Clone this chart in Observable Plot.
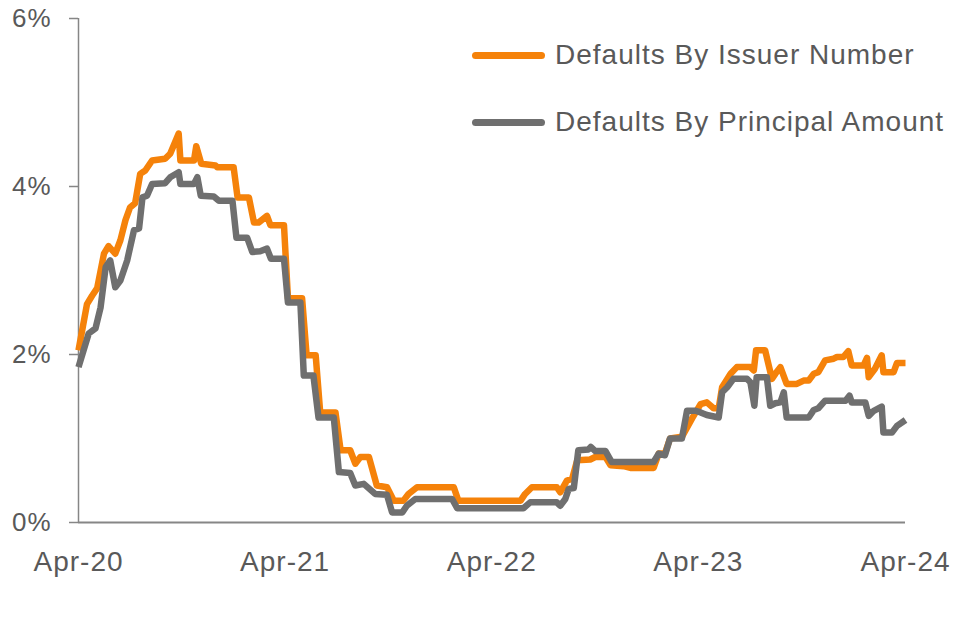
<!DOCTYPE html>
<html>
<head>
<meta charset="utf-8">
<script src="https://cdn.jsdelivr.net/npm/d3@7"></script>
<script src="https://cdn.jsdelivr.net/npm/@observablehq/plot@0.6"></script>
<style>
  html, body { margin: 0; padding: 0; background: #fff; }
  #wrap { position: relative; width: 954px; height: 637px; font-family: "Liberation Sans", Arial, sans-serif; }
  .legend-item { position: absolute; left: 472px; height: 30px; display: flex; align-items: center; gap: 10px;
    font-size: 28px; letter-spacing: 1px; color: #595959; white-space: nowrap; }
  .swatch { width: 73px; height: 7px; border-radius: 4px; }
</style>
</head>
<body>
<div id="wrap"></div>
<script>
// ---- Data (values in %) ----
const seriesNames = ["Defaults By Issuer Number", "Defaults By Principal Amount"];
const seriesColors = ["#F5820A", "#6F6F6F"];

const issuerDates = [
  "2020-04-01","2020-04-16","2020-04-25","2020-05-04","2020-05-16","2020-05-24","2020-06-05","2020-06-14",
  "2020-06-23","2020-07-01","2020-07-10","2020-07-19","2020-07-28","2020-08-09","2020-09-01","2020-09-10",
  "2020-09-25","2020-09-28","2020-10-22","2020-10-26","2020-11-04","2020-11-29","2020-12-02","2020-12-31",
  "2021-01-07","2021-01-27","2021-02-05","2021-02-13","2021-02-28","2021-03-06","2021-03-30","2021-04-06",
  "2021-05-01","2021-05-09","2021-05-25","2021-06-02","2021-06-29","2021-07-08","2021-07-25","2021-08-03",
  "2021-08-12","2021-08-27","2021-09-10","2021-09-28","2021-10-10","2021-10-27","2021-11-05","2021-11-20",
  "2022-01-24","2022-02-01","2022-05-22","2022-05-30","2022-06-11","2022-07-25","2022-07-31","2022-08-12",
  "2022-08-21","2022-08-30","2022-09-22","2022-10-01","2022-10-19","2022-10-28","2022-11-20","2022-12-02",
  "2023-01-12","2023-01-21","2023-02-01","2023-02-10","2023-03-03","2023-03-12","2023-03-21","2023-04-05",
  "2023-04-16","2023-04-28","2023-05-07","2023-05-13","2023-05-28","2023-06-08","2023-07-02","2023-07-08",
  "2023-07-12","2023-07-28","2023-08-09","2023-08-15","2023-08-24","2023-09-04","2023-09-22","2023-10-04",
  "2023-10-13","2023-10-22","2023-10-30","2023-11-11","2023-11-26","2023-12-02","2023-12-13","2023-12-22",
  "2023-12-28","2024-01-18","2024-01-24","2024-01-27","2024-02-07","2024-02-19","2024-02-22","2024-03-11",
  "2024-03-17","2024-04-01"
];
const issuerValues = [
  2.05,2.60,2.70,2.79,3.20,3.29,3.20,3.36,
  3.60,3.75,3.80,4.15,4.19,4.31,4.33,4.39,
  4.63,4.31,4.31,4.48,4.27,4.25,4.23,4.23,
  3.87,3.87,3.57,3.57,3.65,3.54,3.54,2.67,
  2.67,1.99,1.99,1.31,1.31,0.86,0.86,0.70,
  0.78,0.78,0.44,0.42,0.26,0.26,0.34,0.42,
  0.42,0.26,0.26,0.34,0.42,0.42,0.36,0.50,
  0.52,0.74,0.75,0.78,0.78,0.68,0.67,0.65,
  0.65,0.82,0.82,1.00,1.02,1.13,1.24,1.41,
  1.43,1.36,1.36,1.61,1.77,1.85,1.85,1.81,
  2.05,2.05,1.71,1.77,1.85,1.65,1.65,1.69,
  1.69,1.77,1.79,1.93,1.95,1.97,1.97,2.04,
  1.87,1.87,1.96,1.73,1.83,1.99,1.79,1.79,
  1.90,1.90
];

const principalDates = [
  "2020-04-01","2020-04-10","2020-04-19","2020-05-01","2020-05-10","2020-05-19","2020-05-27","2020-06-05",
  "2020-06-14","2020-06-26","2020-07-08","2020-07-17","2020-07-23","2020-07-31","2020-08-09","2020-09-01",
  "2020-09-10","2020-09-25","2020-09-28","2020-10-22","2020-10-28","2020-11-03","2020-11-26","2020-12-05",
  "2020-12-29","2021-01-05","2021-01-24","2021-02-02","2021-02-16","2021-02-28","2021-03-07","2021-03-30",
  "2021-04-06","2021-04-28","2021-05-04","2021-05-21","2021-05-30","2021-06-26","2021-07-05","2021-07-25",
  "2021-08-03","2021-08-18","2021-09-07","2021-09-28","2021-10-07","2021-10-25","2021-11-02","2021-11-17",
  "2022-01-21","2022-01-30","2022-05-27","2022-06-08","2022-07-25","2022-07-31","2022-08-09","2022-08-15",
  "2022-08-24","2022-09-01","2022-09-19","2022-09-23","2022-10-01","2022-10-19","2022-10-30","2023-01-12",
  "2023-01-21","2023-02-01","2023-02-10","2023-03-03","2023-03-12","2023-03-27","2023-04-05","2023-04-16",
  "2023-05-07","2023-05-13","2023-05-22","2023-06-02","2023-06-26","2023-07-02","2023-07-09","2023-07-13",
  "2023-07-31","2023-08-06","2023-08-15","2023-08-24","2023-08-30","2023-09-04","2023-10-13","2023-10-22",
  "2023-10-30","2023-11-11","2023-12-17","2023-12-24","2023-12-28","2024-01-21","2024-01-27","2024-02-05",
  "2024-02-19","2024-02-22","2024-03-08","2024-03-17","2024-04-01"
];
const principalValues = [
  1.85,2.05,2.25,2.31,2.56,3.04,3.12,2.80,
  2.88,3.12,3.48,3.50,3.87,3.89,4.03,4.04,
  4.11,4.17,4.03,4.03,4.11,3.89,3.88,3.83,
  3.83,3.39,3.39,3.22,3.23,3.26,3.14,3.14,
  2.62,2.62,1.75,1.75,1.25,1.25,0.60,0.59,
  0.44,0.46,0.34,0.33,0.12,0.12,0.20,0.28,
  0.28,0.17,0.17,0.24,0.24,0.20,0.28,0.40,
  0.41,0.86,0.87,0.90,0.85,0.85,0.72,0.72,
  0.82,0.80,1.00,1.00,1.33,1.33,1.31,1.28,
  1.25,1.55,1.61,1.71,1.71,1.67,1.39,1.73,
  1.73,1.39,1.42,1.43,1.55,1.25,1.25,1.34,
  1.36,1.45,1.45,1.51,1.43,1.43,1.27,1.33,
  1.38,1.07,1.07,1.15,1.22
];

const xTickDates = ["2020-04-01","2021-04-01","2022-04-01","2023-04-01","2024-04-01"];
const yTickValues = [0, 2, 4, 6];

// ---- Build tables ----
const parse = d3.utcParse("%Y-%m-%d");
const issuer = issuerDates.map((d, i) => ({date: parse(d), value: issuerValues[i]}));
const principal = principalDates.map((d, i) => ({date: parse(d), value: principalValues[i]}));
const xTicks = xTickDates.map(parse);
const xDomain = [xTicks[0], xTicks[xTicks.length - 1]];

const axisColor = "#868686";
const textColor = "#595959";

const chart = Plot.plot({
  width: 954,
  height: 637,
  marginLeft: 78,
  marginRight: 49,
  marginTop: 18,
  marginBottom: 115,
  style: {fontFamily: "'Liberation Sans', Arial, sans-serif", fontSize: "26px", letterSpacing: "1px", background: "#fff"},
  x: {type: "utc", domain: xDomain},
  y: {domain: [0, 6]},
  marks: [
    Plot.axisY({ticks: yTickValues, tickFormat: d => d + "%", tickSize: 9, tickPadding: 18,
      stroke: axisColor, strokeWidth: 1.5, fill: textColor, label: null}),
    Plot.axisX({ticks: xTicks, tickFormat: d3.utcFormat("%b-%y"), tickSize: 0, tickPadding: 29,
      fill: textColor, fontSize: 28, label: null}),
    Plot.ruleX([xDomain[0]], {y1: 0, y2: 6, stroke: axisColor, strokeWidth: 1.5}),
    Plot.ruleY([0], {stroke: axisColor, strokeWidth: 2}),
    Plot.line(issuer, {x: "date", y: "value", stroke: seriesColors[0], strokeWidth: 6.5, strokeLinejoin: "round", strokeLinecap: "butt"}),
    Plot.line(principal, {x: "date", y: "value", stroke: seriesColors[1], strokeWidth: 6.5, strokeLinejoin: "round", strokeLinecap: "butt"})
  ]
});

const wrap = document.getElementById("wrap");
wrap.appendChild(chart);

// Legend
const legendTops = [40, 107];
seriesNames.forEach((name, i) => {
  const item = document.createElement("div");
  item.className = "legend-item";
  item.style.top = legendTops[i] + "px";
  const sw = document.createElement("div");
  sw.className = "swatch";
  sw.style.background = seriesColors[i];
  const label = document.createElement("span");
  label.textContent = name;
  item.appendChild(sw);
  item.appendChild(label);
  wrap.appendChild(item);
});
</script>
</body>
</html>
